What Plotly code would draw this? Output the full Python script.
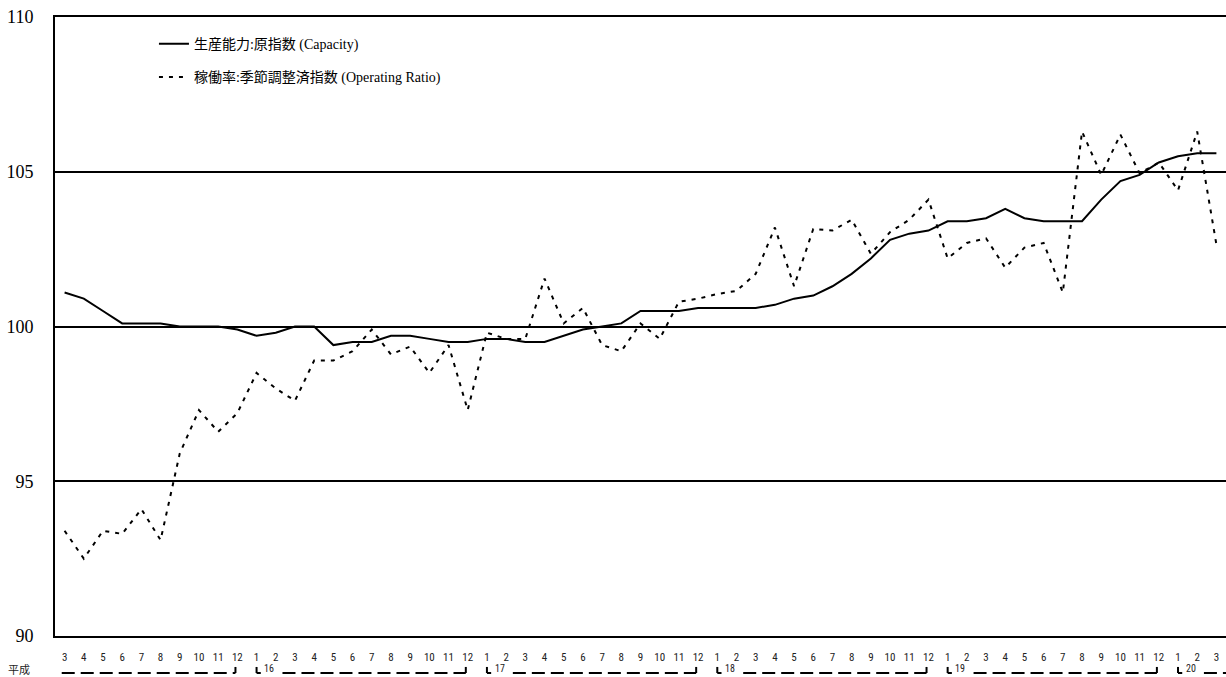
import plotly.graph_objects as go

# ---- data ----
year_labels = ["15", "16", "17", "18", "19", "20"]
year_first_month = [3, 1, 1, 1, 1, 1]
year_last_month = [12, 12, 12, 12, 12, 3]

capacity = [101.1, 100.9, 100.5, 100.1, 100.1, 100.1, 100.0, 100.0, 100.0, 99.9,
            99.7, 99.8, 100.0, 100.0, 99.4, 99.5, 99.5, 99.7, 99.7, 99.6, 99.5, 99.5,
            99.6, 99.6, 99.5, 99.5, 99.7, 99.9, 100.0, 100.1, 100.5, 100.5, 100.5, 100.6,
            100.6, 100.6, 100.6, 100.7, 100.9, 101.0, 101.3, 101.7, 102.2, 102.8, 103.0, 103.1,
            103.4, 103.4, 103.5, 103.8, 103.5, 103.4, 103.4, 103.4, 104.1, 104.7, 104.9, 105.3,
            105.5, 105.6, 105.6]

operating = [93.4, 92.5, 93.4, 93.3, 94.1, 93.1, 95.9, 97.3, 96.6, 97.2,
             98.5, 98.0, 97.6, 98.9, 98.9, 99.2, 99.9, 99.1, 99.35, 98.5, 99.4, 97.3,
             99.8, 99.6, 99.6, 101.55, 100.1, 100.6, 99.4, 99.2, 100.1, 99.6, 100.8, 100.9,
             101.05, 101.15, 101.7, 103.2, 101.3, 103.15, 103.1, 103.45, 102.35, 103.05, 103.45, 104.1,
             102.2, 102.7, 102.85, 101.9, 102.55, 102.7, 101.1, 106.3, 104.9, 106.2, 104.95, 105.3,
             104.4, 106.3, 102.65]

name_capacity = "生産能力:原指数 (Capacity)"
name_operating = "稼働率:季節調整済指数 (Operating Ratio)"
era_label = "平成"

# ---- categories ----
categories = []
month_text = []
year_spans = []
for y, m0, m1 in zip(year_labels, year_first_month, year_last_month):
    start = len(categories)
    for m in range(m0, m1 + 1):
        categories.append(f"H{y}-{m}")
        month_text.append(str(m))
    year_spans.append((y, start, len(categories) - 1))

serif = "Liberation Serif, Noto Sans CJK JP"
narrow = "Liberation Sans Narrow, Roboto Condensed, Liberation Sans"

fig = go.Figure()
fig.add_trace(go.Scatter(x=categories, y=capacity, mode="lines", name=name_capacity,
                         legendgroup="a",
                         line=dict(color="black", width=2)))
fig.add_trace(go.Scatter(x=categories, y=operating, mode="lines", name=name_operating,
                         legendgroup="b",
                         line=dict(color="black", width=2, dash="4px,6px")))

# year bracket row under month labels
shapes = []
annotations = []
y_row = -0.0598
y_tick = -0.050
y_text = -0.0533
n = len(categories)
for k, (y, s, e) in enumerate(year_spans):
    if k == 0:
        x_start = s - 0.15
    else:
        # "└" mark
        shapes.append(dict(type="line", xref="x", yref="paper", x0=s, x1=s, y0=y_row, y1=y_tick,
                           line=dict(color="black", width=2)))
        shapes.append(dict(type="line", xref="x", yref="paper", x0=s, x1=s + 0.22, y0=y_row, y1=y_row,
                           line=dict(color="black", width=2)))
        annotations.append(dict(x=s + 0.3, y=y_text, xref="x", yref="paper", text=y,
                                showarrow=False, xanchor="left", yanchor="middle",
                                font=dict(family=narrow, size=10, color="#222")))
        x_start = s + 1.35
    if k == len(year_spans) - 1:
        x_end = n - 0.5
    else:
        x_end = e - 0.1
    shapes.append(dict(type="line", xref="x", yref="paper", x0=x_start, x1=x_end, y0=y_row, y1=y_row,
                       line=dict(color="black", width=2, dash="13px,6px")))
    if k != len(year_spans) - 1:
        # "┘" mark
        shapes.append(dict(type="line", xref="x", yref="paper", x0=e - 0.1, x1=e - 0.1, y0=y_row, y1=y_tick,
                           line=dict(color="black", width=2)))

annotations.append(dict(x=-0.031, y=y_text, xref="paper", yref="paper", text=era_label,
                        showarrow=False, xanchor="center", yanchor="middle",
                        font=dict(family="Noto Sans CJK JP", size=11, color="#222")))

fig.update_layout(
    width=1226, height=677,
    margin=dict(l=55, r=0, t=17, b=41),
    paper_bgcolor="white", plot_bgcolor="white",
    showlegend=True,
    legend=dict(x=0.0845, y=0.982, xanchor="left", yanchor="top",
                bgcolor="rgba(0,0,0,0)", tracegroupgap=12, traceorder="grouped",
                font=dict(family=serif, size=14, color="black")),
    xaxis=dict(type="category", categoryorder="array", categoryarray=categories,
               range=[-0.5, n - 0.5],
               tickmode="array", tickvals=categories, ticktext=month_text,
               tickangle=0,
               showgrid=False, showline=True, mirror=True, linecolor="black", linewidth=2,
               ticks="", ticklabelstandoff=10,
               tickfont=dict(family=narrow, size=11, color="#222")),
    yaxis=dict(range=[90, 110], tickmode="array", tickvals=[90, 95, 100, 105, 110],
               showgrid=True, gridcolor="black", gridwidth=2,
               showline=True, linecolor="black", linewidth=2, zeroline=False,
               ticks="", ticklabelstandoff=16,
               tickfont=dict(family="Liberation Serif", size=18, color="black")),
    shapes=shapes,
    annotations=annotations,
)

fig.write_html("out.html", config={"displayModeBar": False},
               post_script="document.body.style.margin='0';document.body.style.padding='0';document.body.style.overflow='hidden';")
